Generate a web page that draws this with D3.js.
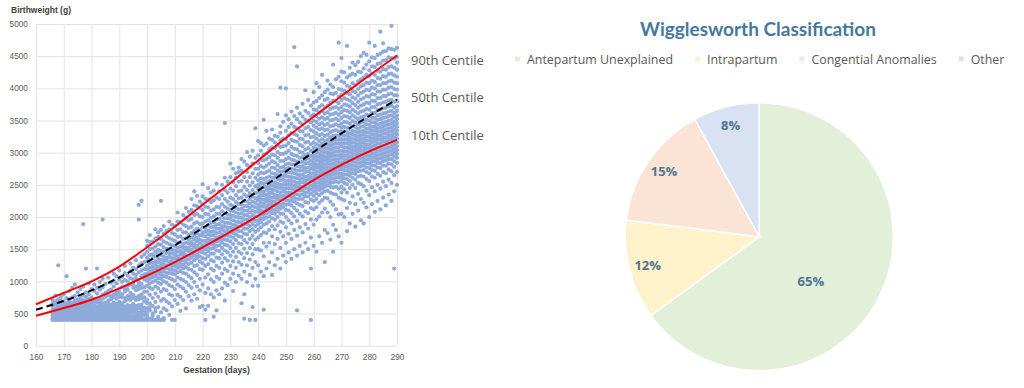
<!DOCTYPE html>
<html><head><meta charset="utf-8">
<script src="https://cdn.jsdelivr.net/npm/d3@7"></script>
<style>body{margin:0;background:#fff} svg{display:block}</style>
</head><body>
<svg id="c" width="1024" height="388"></svg>
<script>
// ---------- DATA ----------
const xTicks = [160,170,180,190,200,210,220,230,240,250,260,270,280,290];
const yTicks = [0,500,1000,1500,2000,2500,3000,3500,4000,4500,5000];
const xTitle = "Gestation (days)";
const yTitle = "Birthweight (g)";

const centileDays = [160,170,180,190,200,210,220,230,240,250,260,270,280,290];
const centile90 = [645,820,1000,1230,1530,1850,2190,2530,2880,3230,3560,3880,4200,4510];
const centile50 = [560,695,860,1060,1300,1560,1830,2110,2410,2710,3010,3300,3570,3830];
const centile10 = [465,585,715,890,1090,1300,1530,1770,2020,2300,2575,2810,3020,3200];
const centileLabels = ["90th Centile","50th Centile","10th Centile"];

// scatter: [gestation day, birthweights in units of 10 g]
const scatterRows = [
[166,[40,41,43,46,48,51,55,57,62,66,71]],
[167,[40,42,44,45,49,53,54,58,64,69,78]],
[168,[40,41,43,47,50,52,56,60,61,67,72,125]],
[169,[40,40,42,45,48,53,55,59,63,70,76]],
[170,[40,41,44,46,47,51,54,57,62,64,69,80]],
[171,[40,42,43,45,49,52,56,58,61,66,74,108]],
[172,[40,41,44,47,50,51,55,60,63,68,72,85]],
[173,[40,43,45,46,49,54,57,59,64,67,75,90]],
[174,[40,41,42,46,48,52,55,58,62,66,70,77,95]],
[175,[40,42,44,47,51,53,57,61,63,68,72,83]],
[176,[40,41,43,45,49,50,54,58,60,65,69,74,88]],
[177,[40,42,44,48,52,55,56,60,64,67,71,78,92,189]],
[178,[40,41,45,47,50,53,57,59,63,66,70,76,83,120]],
[179,[40,43,44,48,51,54,58,62,65,69,73,80,97]],
[180,[40,41,42,46,49,52,56,60,66,70,75,88]],
[181,[40,42,45,47,50,55,57,62,68,73,85,95]],
[182,[40,41,44,48,51,53,58,61,67,72,81,90,120]],
[183,[40,43,46,49,52,56,60,64,69,74,87,99]],
[184,[40,41,44,47,50,54,57,62,66,73,79,91,104,196]],
[185,[40,42,45,48,53,55,58,63,67,76,82,96]],
[186,[40,41,43,47,51,54,59,61,65,70,78,85,106]],
[187,[40,42,46,49,52,57,60,64,72,77,87,98]],
[188,[40,41,45,48,53,56,58,62,67,75,80,92,101,112]],
[189,[40,43,47,50,54,57,61,65,73,79,84,97,108]],
[190,[40,41,44,49,52,55,60,63,68,76,82,88,103,117]],
[191,[40,42,46,50,53,58,62,66,75,80,91,99,107]],
[192,[40,41,45,48,52,57,61,69,74,84,89,102,113,124]],
[193,[40,43,47,51,55,59,63,72,77,87,93,100,109]],
[194,[40,42,45,50,54,58,62,71,76,82,95,105,116,128]],
[195,[40,41,46,52,56,60,65,74,79,90,96,103,112,121]],
[196,[40,44,48,53,57,62,71,75,86,92,104,110,119,133]],
[197,[40,42,47,51,58,63,72,77,88,94,99,114,125,196,219]],
[198,[40,45,50,55,60,64,74,80,90,96,108,117,128,138,225]],
[199,[40,41,48,54,59,69,75,84,91,103,111,119,130,142]],
[200,[40,44,47,52,58,66,71,84,93,101,106,112,119,124,131,137,146,155,163]],
[201,[40,42,55,60,66,79,90,97,104,110,115,121,128,133,141,150,161,172]],
[202,[40,46,50,62,74,88,99,106,111,118,123,129,136,142,151,162]],
[203,[40,53,58,68,81,92,101,108,113,120,126,131,139,146,154,167,181]],
[204,[40,45,60,76,89,98,105,112,117,123,130,135,142,149,158,169,176]],
[205,[40,52,70,84,96,104,110,116,123,128,134,141,147,157,166,180,225]],
[206,[40,43,58,73,88,100,108,115,120,127,133,139,146,153,162,174,186]],
[207,[55,69,86,98,107,113,120,125,132,137,144,151,160,170,178]],
[208,[48,66,80,94,105,113,119,126,131,138,144,150,158,167,181,193]],
[209,[40,61,78,92,103,112,118,124,131,136,143,149,156,165,175,188]],
[210,[40,71,88,101,111,117,124,129,136,142,148,155,163,173,186]],
[211,[65,79,95,106,114,121,127,134,139,146,152,160,169,180,193,207]],
[212,[54,76,92,104,116,123,129,135,142,147,154,161,170,181,192]],
[213,[71,89,102,113,120,126,133,140,145,152,158,166,176,188,203]],
[214,[58,84,99,112,122,129,135,141,148,153,160,167,176,186,199,214]],
[215,[77,94,108,119,127,134,140,147,152,159,165,172,183,195,208]],
[216,[70,90,105,118,129,137,143,149,156,161,168,175,185,197,211,228]],
[217,[80,99,114,124,133,140,146,153,158,165,171,179,190,203,218,240]],
[218,[73,92,110,125,136,142,149,155,162,168,175,182,192,205,217,233]],
[219,[60,86,104,119,131,139,146,152,159,165,172,180,189,201,214,224]],
[220,[62,95,118,128,136,145,150,156,163,171,176,184,190,200,211,220,232,251]],
[221,[40,56,82,106,124,135,143,150,157,163,170,177,183,193,205,216,228]],
[222,[62,89,111,127,139,147,153,160,166,173,179,187,195,204,215,227,245]],
[223,[80,103,120,133,143,151,158,164,171,177,184,191,199,210,223,238]],
[224,[45,75,99,117,131,143,152,158,165,172,178,185,192,201,212,226,241]],
[225,[55,86,107,124,137,148,155,162,168,175,182,188,196,205,216,230,252]],
[226,[80,104,121,136,147,156,163,169,176,182,189,197,205,215,228,240]],
[227,[89,112,129,142,152,160,166,173,180,186,193,200,209,220,234,250]],
[228,[70,98,119,136,148,157,165,171,178,185,191,198,206,216,228,242,261,346]],
[229,[94,116,132,145,156,164,171,178,184,191,198,204,213,224,238,255]],
[230,[104,124,140,152,162,170,177,183,190,197,203,210,219,230,244,262,283]],
[231,[85,112,131,146,158,168,175,182,188,195,202,209,217,228,241,254,275]],
[232,[99,121,138,152,164,173,180,187,193,200,207,214,223,234,248,261,268]],
[233,[109,130,146,159,170,178,185,192,199,205,212,220,229,240,255,270,277]],
[234,[66,104,126,143,158,169,178,186,192,199,206,213,220,230,241,256,272,290]],
[235,[42,80,115,136,151,164,174,182,189,196,203,210,217,225,235,247,262,286]],
[236,[99,125,144,160,173,182,189,196,203,210,217,224,232,242,255,270,281,301]],
[237,[40,110,134,152,166,178,186,193,200,207,214,221,228,237,249,262,278,294]],
[238,[60,93,121,142,158,171,181,189,196,203,210,217,224,232,242,254,268,283,303]],
[239,[40,104,130,150,165,177,186,194,201,208,215,222,229,237,248,261,275,292,338]],
[240,[93,125,150,168,180,189,195,201,208,213,219,226,231,238,244,250,257,266,275,284,296,318]],
[241,[115,148,172,184,192,198,204,210,216,222,228,234,240,246,253,260,269,279,289,303,315]],
[242,[56,108,139,160,176,188,197,203,209,216,221,227,234,239,246,252,259,268,277,288,297,311,351]],
[243,[120,154,175,190,199,206,211,217,224,229,235,242,247,254,261,270,280,290,299,314,334]],
[244,[130,160,180,193,201,208,214,220,226,232,238,244,250,256,263,272,283,293,305,322]],
[245,[110,145,170,186,198,206,212,219,224,230,237,243,249,255,261,268,277,287,297,308,320,336]],
[246,[125,158,181,196,205,211,218,224,230,235,242,248,254,261,267,276,285,296,307,316,326]],
[247,[135,166,187,200,209,215,221,228,233,240,246,252,259,265,272,281,292,301,312,325,360]],
[248,[120,152,177,193,205,213,219,226,232,238,245,250,257,263,270,277,287,298,309,319,331,341,401]],
[249,[140,170,191,205,215,221,227,233,240,245,251,258,264,271,278,287,298,310,322,348]],
[250,[130,160,184,200,211,219,226,232,238,244,250,256,263,268,275,282,290,300,311,321,334,358,400]],
[251,[145,174,195,210,220,226,233,238,245,251,257,263,270,276,283,292,303,315,327,340,352]],
[252,[135,166,190,206,218,225,231,237,244,250,256,262,269,275,282,289,298,309,320,331,345,364]],
[253,[150,180,201,214,224,230,236,243,249,255,261,268,274,281,288,296,306,318,329,340,357,464]],
[254,[55,140,171,194,210,221,228,235,241,247,253,260,266,272,279,286,295,305,317,327,338,352,370,434]],
[255,[155,184,205,219,228,234,241,247,253,259,265,272,278,285,292,301,312,322,334,347,361]],
[256,[145,176,201,217,228,235,241,247,254,260,266,273,279,286,293,300,310,321,333,344,356,376]],
[257,[160,189,209,223,232,238,245,251,257,263,270,276,283,289,296,305,316,327,338,351,365,397]],
[258,[150,182,206,222,232,239,245,252,258,264,271,277,284,291,298,307,317,328,340,350,362,382]],
[259,[40,120,168,196,214,227,236,243,249,256,262,268,275,281,288,295,303,313,324,335,347,357,373]],
[260,[155,188,212,225,233,240,246,251,257,262,268,274,279,285,291,296,302,308,316,325,333,342,350,359,367,378,394]],
[261,[146,196,215,228,237,243,248,254,260,265,271,277,282,288,294,300,306,313,322,330,339,348,357,366,380,408]],
[262,[170,201,222,234,242,247,253,259,264,270,276,281,287,293,299,305,311,318,327,336,344,353,362,371,385,402]],
[263,[160,207,226,237,244,250,256,261,267,273,278,284,290,296,302,308,314,321,329,338,346,355,364,374,389,421]],
[264,[130,180,213,230,240,247,253,259,265,270,276,282,288,294,300,306,312,318,326,335,343,352,361,370,382,394]],
[265,[175,207,229,241,249,255,261,266,272,278,284,290,295,301,307,313,320,328,336,345,354,363,373,384,398,412]],
[266,[165,200,224,238,247,253,259,265,270,276,282,288,294,299,305,311,317,324,332,341,350,359,368,378,392,406]],
[267,[146,188,219,236,246,254,260,266,271,277,283,289,295,301,307,313,319,326,334,342,351,360,370,381,391,402,437]],
[268,[180,212,235,247,255,261,267,273,279,285,290,296,302,308,314,320,327,335,344,353,362,371,380,393,414]],
[269,[170,204,230,244,254,261,267,273,278,284,290,296,302,308,314,320,326,333,342,350,359,368,377,387,399,418,471]],
[270,[160,205,228,238,247,256,262,267,274,279,285,292,297,303,310,315,321,328,333,339,345,354,363,371,382,390,398,411,426,447]],
[271,[200,226,243,253,260,266,272,278,284,290,296,302,308,314,320,326,333,340,348,357,366,375,385,396,409,425]],
[272,[178,214,238,251,259,266,272,278,284,290,296,302,308,314,320,326,332,339,347,356,365,374,383,393,404,417,466]],
[273,[190,222,245,256,264,270,276,282,288,294,300,306,312,318,324,330,337,345,354,363,372,381,391,402,420,432]],
[274,[205,232,250,261,268,274,280,286,292,298,304,310,316,322,328,334,341,349,358,367,377,386,396,408,423,440]],
[275,[185,220,245,258,267,273,279,285,291,297,303,309,315,321,327,333,340,347,355,364,374,384,394,405,421,436]],
[276,[210,236,253,263,271,277,283,289,295,301,307,313,319,325,331,337,344,352,361,370,379,389,399,411,426,441]],
[277,[195,228,251,264,272,279,285,291,297,303,309,315,321,327,333,340,347,355,364,373,383,393,403,414,425,450]],
[278,[190,222,248,263,273,280,286,292,298,304,310,316,322,328,334,341,348,356,365,375,385,395,405,417,431,455]],
[279,[215,241,259,270,277,283,289,295,301,307,313,319,325,331,337,344,351,359,368,378,388,398,409,421,437,452]],
[280,[200,234,256,268,276,283,289,295,301,307,313,319,325,331,337,343,350,358,367,377,387,397,408,419,428,442,471]],
[281,[220,246,263,273,280,286,292,298,304,310,316,322,328,334,340,347,354,362,371,381,391,401,412,423,434,448]],
[282,[208,240,261,272,280,287,293,299,305,311,317,323,329,335,341,347,354,362,371,380,390,400,410,421,433,447,466]],
[283,[225,250,267,277,284,290,296,302,308,314,320,326,332,338,344,351,358,366,375,385,395,405,416,427,438,452]],
[284,[212,244,264,276,284,291,297,303,309,315,321,327,333,339,345,352,359,367,376,385,395,405,415,426,439,454,488]],
[285,[230,255,270,280,287,293,299,305,311,317,323,329,335,341,347,354,361,369,378,388,398,408,419,430,443,457,470]],
[286,[218,248,268,280,288,294,300,306,312,318,324,330,336,342,348,355,362,370,379,388,398,408,418,429,444,458]],
[287,[235,258,274,283,290,296,302,308,314,320,326,332,338,344,350,357,364,372,381,391,401,411,422,433,448,462]],
[288,[225,253,271,282,290,297,303,309,315,321,327,333,339,345,351,358,365,373,382,392,402,412,423,434,447,461,497]],
[289,[120,240,265,278,287,294,300,306,312,318,324,330,336,342,348,355,362,370,379,389,399,409,420,432,446,460]],
[290,[250,270,284,292,298,304,310,316,322,328,334,340,346,352,358,365,372,380,389,398,408,418,429,440,449,463]]
];

const pieTitle = "Wigglesworth Classification";
const pieCategories = ["Antepartum Unexplained","Intrapartum","Congential Anomalies","Other"];
const pieValues = [65,12,15,8];
const pieColors = ["#e2efd9","#fef2cb","#fbe4d5","#d9e2f3"];

// ---------- SCATTER CHART ----------
const svg = d3.select("#c");
const x = d3.scaleLinear().domain([160,290]).range([36,397]);
const y = d3.scaleLinear().domain([0,5000]).range([345.7,24]);
const plotH = y(0)-y(5000), plotW = x(290)-x(160);

const gx = svg.append("g").attr("transform",`translate(0,${y(0)})`)
  .call(d3.axisBottom(x).tickValues(xTicks).tickSize(-plotH).tickPadding(8).tickFormat(d3.format("d")));
const gy = svg.append("g").attr("transform",`translate(${x(160)},0)`)
  .call(d3.axisLeft(y).tickValues(yTicks).tickSize(-plotW).tickPadding(8).tickFormat(d3.format("d")));
[gx,gy].forEach(g=>{
  g.select(".domain").remove();
  g.selectAll(".tick line").attr("stroke","#e3e3e3").attr("stroke-width",1);
  g.selectAll("text").attr("fill","#595959").style("font-family","'Liberation Sans',Arial,sans-serif").style("font-size","8.3px");
});

const points = scatterRows.flatMap(([d,ws]) => ws.map(w => ({d, w: w*10})));
svg.append("g").selectAll("circle").data(points).join("circle")
  .attr("cx",p=>x(p.d)).attr("cy",p=>y(p.w)).attr("r",2.1).attr("fill","#8eaadb");

const line = vals => d3.line().x((d,i)=>x(centileDays[i])).y(d=>y(d)).curve(d3.curveMonotoneX)(vals);
svg.append("path").attr("d",line(centile90)).attr("fill","none").attr("stroke","#ff0000").attr("stroke-width",2);
svg.append("path").attr("d",line(centile10)).attr("fill","none").attr("stroke","#ff0000").attr("stroke-width",2);
svg.append("path").attr("d",line(centile50)).attr("fill","none").attr("stroke","#000").attr("stroke-width",2).attr("stroke-dasharray","7,4");

svg.append("text").attr("x",11).attr("y",13).text(yTitle)
  .attr("fill","#404040").style("font","bold 8.5px 'Liberation Sans',Arial,sans-serif");
svg.append("text").attr("x",(x(160)+x(290))/2).attr("y",373).attr("text-anchor","middle").text(xTitle)
  .attr("fill","#404040").style("font","bold 8.5px 'Liberation Sans',Arial,sans-serif");

const centileY = [64.6,101.6,139.6];
svg.append("g").selectAll("text").data(centileLabels).join("text")
  .attr("x",411).attr("y",(d,i)=>centileY[i]).text(d=>d)
  .attr("fill","#595959").style("font","13px 'Open Sans',sans-serif");

// ---------- PIE CHART ----------
const cx = 759.3, cy = 236.7, R = 134;
const pie = d3.pie().sort(null).value(d=>d)(pieValues);
const arc = d3.arc().innerRadius(0).outerRadius(R);
const gp = svg.append("g").attr("transform",`translate(${cx},${cy})`);
gp.selectAll("path").data(pie).join("path").attr("d",arc)
  .attr("fill",(d,i)=>pieColors[i]).attr("stroke","#fff").attr("stroke-width",1.5);
gp.selectAll("text").data(pie).join("text")
  .attr("transform",d=>{
    const big = d.value > 50;
    const a = d.startAngle + (d.endAngle-d.startAngle)*(big?0.56:0.5);
    const r = big ? 0.51*R : 0.86*R;
    return `translate(${Math.sin(a)*r},${-Math.cos(a)*r})`;
  })
  .attr("text-anchor","middle").attr("dy","0.35em")
  .text(d=>d.value+"%")
  .attr("fill","#4f7592").style("font","bold 13px 'Open Sans',sans-serif");

svg.append("text").attr("x",758).attr("y",35.5).attr("text-anchor","middle").text(pieTitle)
  .attr("fill","#46789a").style("font","bold 19px Lato,sans-serif");

const lg = svg.append("g");
let lx = 515;
pieCategories.forEach((c,i)=>{
  lg.append("rect").attr("x",lx).attr("y",56.5).attr("width",5).attr("height",5).attr("fill",pieColors[i]);
  const t = lg.append("text").attr("x",lx+12).attr("y",63.5).text(c)
    .attr("fill","#595959").style("font","12.4px 'Open Sans',sans-serif");
  lx += 12 + t.node().getComputedTextLength() + 22;
});
</script>
</body></html>
